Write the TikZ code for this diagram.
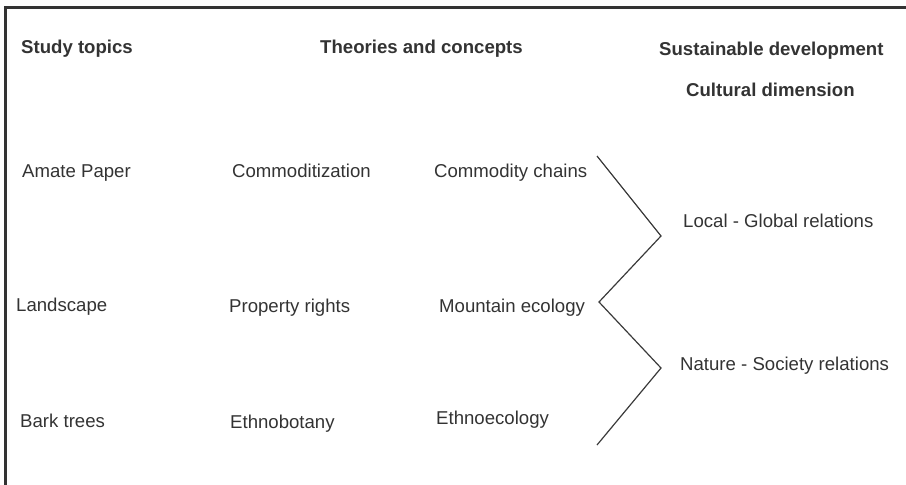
\documentclass[tikz,border=0pt]{standalone}
\usepackage{fontspec}
\setmainfont{Liberation Sans}
\definecolor{ink}{HTML}{333333}
\definecolor{lineink}{HTML}{3A3A3A}
\begin{document}
\begin{tikzpicture}[x=1pt,y=-1pt,
  lbl/.style={anchor=base west,inner sep=0pt,text=ink,font=\fontsize{18.6}{22}\selectfont},
  hdr/.style={lbl,font=\fontsize{18.6}{22}\selectfont\bfseries},
  zig/.style={draw=lineink,line width=1.2pt,line join=miter},
  frame/.style={draw=ink,line width=2.4pt}]
\useasboundingbox (0,0) rectangle (906,485);
% frame
\coordinate (ftr) at (906,7.3);
\coordinate (ftl) at (5.3,7.3);
\coordinate (fbl) at (5.3,485);
\draw[frame] (ftr) -- (ftl) -- (fbl);
% headers
\node[hdr] (h1) at (21,53) {Study topics};
\node[hdr] (h2) at (320,53) {Theories and concepts};
\node[hdr] (h3) at (659,55) {Sustainable development};
\node[hdr] (h4) at (686,96) {Cultural dimension};
% rows
\node[lbl] (a1) at (22,177) {Amate Paper};
\node[lbl] (a2) at (232,177) {Commoditization};
\node[lbl] (a3) at (434,177) {Commodity chains};
\node[lbl] (b1) at (16,311) {Landscape};
\node[lbl] (b2) at (229,312) {Property rights};
\node[lbl] (b3) at (439,312) {Mountain ecology};
\node[lbl] (c1) at (20,427) {Bark trees};
\node[lbl] (c2) at (230,428.5) {Ethnobotany};
\node[lbl] (c3) at (436,424) {Ethnoecology};
\node[lbl] (r1) at (683,227) {Local - Global relations};
\node[lbl] (r2) at (680,370) {Nature - Society relations};
% zigzag
\coordinate (z1) at (597,156);
\coordinate (z2) at (661,236);
\coordinate (z3) at (599,302);
\coordinate (z4) at (661,368);
\coordinate (z5) at (597,445);
\draw[zig] (z1) -- (z2) -- (z3) -- (z4) -- (z5);
\end{tikzpicture}
\end{document}
